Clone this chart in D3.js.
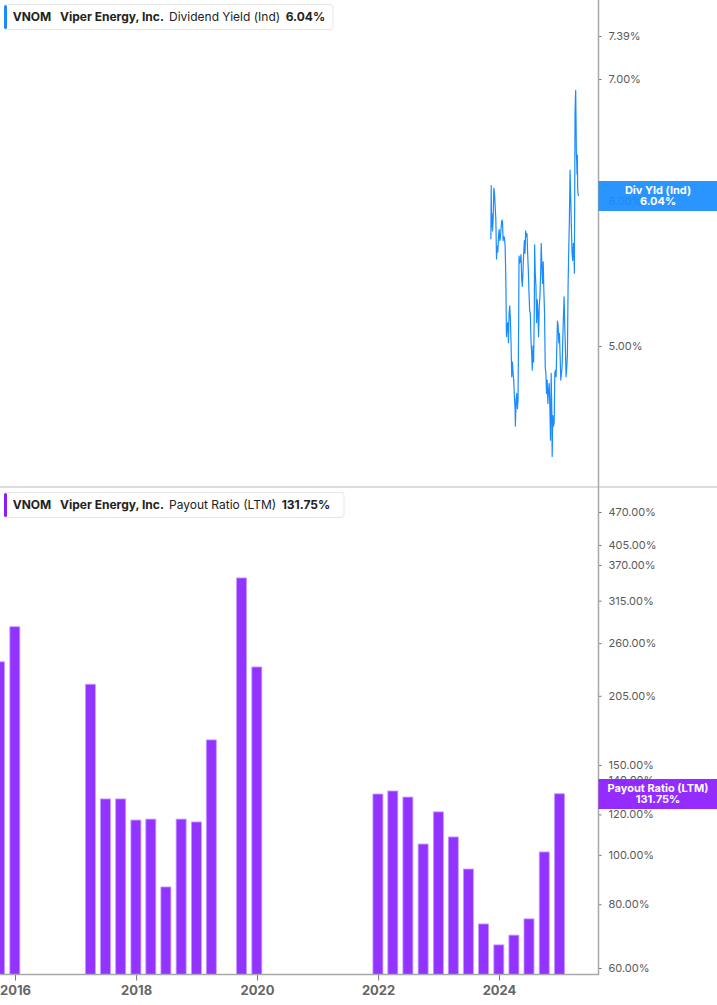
<!DOCTYPE html>
<html>
<head>
<meta charset="utf-8">
<script src="https://cdn.jsdelivr.net/npm/d3@7"></script>
<style>
	body { margin: 0; background: #fff; }
	svg { display: block; font-family: Inter, "Noto Sans", sans-serif; }
</style>
</head>
<body>
<svg id="main"></svg>
<script>
// dividend yield (ind), %
var yieldDates = ['2023-11-13','2023-11-15','2023-11-17','2023-11-19','2023-11-23','2023-11-27','2023-12-01','2023-12-05','2023-12-09','2023-12-13','2023-12-17','2023-12-21','2023-12-25','2023-12-29','2024-01-02','2024-01-06','2024-01-10','2024-01-14','2024-01-18','2024-01-22','2024-01-26','2024-01-30','2024-02-03','2024-02-07','2024-02-11','2024-02-15','2024-02-19','2024-02-23','2024-02-27','2024-03-02','2024-03-06','2024-03-10','2024-03-14','2024-03-18','2024-03-22','2024-03-26','2024-03-30','2024-04-03','2024-04-07','2024-04-09','2024-04-13','2024-04-17','2024-04-21','2024-04-25','2024-04-29','2024-05-01','2024-05-05','2024-05-09','2024-05-13','2024-05-17','2024-05-21','2024-05-25','2024-05-29','2024-06-02','2024-06-06','2024-06-10','2024-06-14','2024-06-18','2024-06-22','2024-06-26','2024-06-30','2024-07-04','2024-07-08','2024-07-12','2024-07-16','2024-07-20','2024-07-24','2024-07-28','2024-08-01','2024-08-03','2024-08-07','2024-08-11','2024-08-15','2024-08-19','2024-08-23','2024-08-27','2024-08-31','2024-09-04','2024-09-08','2024-09-12','2024-09-16','2024-09-20','2024-09-24','2024-09-28','2024-10-02','2024-10-06','2024-10-10','2024-10-14','2024-10-18','2024-10-22','2024-10-26','2024-10-30','2024-11-03','2024-11-07','2024-11-11','2024-11-15','2024-11-17','2024-11-21','2024-11-25','2024-11-29','2024-12-03','2024-12-07','2024-12-11','2024-12-15','2024-12-19','2024-12-23','2024-12-27','2024-12-31','2025-01-04','2025-01-08','2025-01-12','2025-01-16','2025-01-20','2025-01-24','2025-01-28','2025-02-01','2025-02-05','2025-02-09','2025-02-13','2025-02-17','2025-02-21','2025-02-25','2025-03-01','2025-03-05','2025-03-09','2025-03-13','2025-03-17','2025-03-21','2025-03-25','2025-03-29','2025-03-31','2025-04-02','2025-04-04','2025-04-06','2025-04-08','2025-04-10','2025-04-12','2025-04-14','2025-04-16','2025-04-18','2025-04-20','2025-04-24'];
var yieldValues = [5.72,6.12,5.81,5.91,5.78,5.88,6.10,6.06,5.96,5.86,5.58,5.67,5.63,5.74,5.79,5.71,5.74,5.81,5.86,5.85,5.71,5.74,5.73,5.67,5.46,5.06,5.13,5.15,5.02,5.21,5.26,5.17,5.00,4.81,4.90,4.83,4.79,4.69,4.62,4.52,4.67,4.71,4.62,4.67,5.21,5.60,5.55,5.57,5.61,5.44,5.39,5.50,5.62,5.71,5.62,5.78,5.74,5.76,5.62,5.50,5.35,5.23,5.21,5.04,4.96,4.85,5.00,4.90,5.21,5.68,5.48,5.39,5.15,5.30,5.21,5.06,5.26,5.32,5.46,5.69,5.53,5.41,5.56,5.35,5.21,4.87,4.83,4.71,4.79,4.65,4.73,4.77,4.63,4.44,4.83,4.60,4.35,4.58,4.52,4.54,4.83,4.85,4.81,5.00,5.16,5.13,5.02,5.08,4.94,4.79,4.83,4.87,5.04,5.19,5.32,5.13,4.98,4.81,4.87,4.94,5.39,5.64,5.86,6.24,6.03,5.81,5.62,5.57,5.69,5.62,5.48,6.03,6.70,6.82,6.90,6.65,6.38,6.32,6.21,6.36,6.09,6.04];

// payout ratio (LTM), %
var payoutDates = ['2015-09-30','2015-12-31','2017-03-31','2017-06-30','2017-09-30','2017-12-31','2018-03-31','2018-06-30','2018-09-30','2018-12-31','2019-03-31','2019-09-30','2019-12-31','2021-12-31','2022-03-31','2022-06-30','2022-09-30','2022-12-31','2023-03-31','2023-06-30','2023-09-30','2023-12-31','2024-03-31','2024-06-30','2024-09-30','2024-12-31'];
var payoutValues = [239,280,216,128.7,128.7,117,117.5,86.5,117.5,116,168,349,233.5,131.6,133.4,129.8,105,121.4,108.4,93.8,73.2,66.6,69.6,74.9,101.3,131.75];

var yieldTicks = [7.39, 7, 6, 5];
var payoutTicks = [470, 405, 370, 315, 260, 205, 150, 140, 120, 100, 80, 60];
var yearTicks = [2016, 2018, 2020, 2022, 2024];

var width = 717, height = 1005;
var axisX = 598.5;
var topBottom = 487, botTop = 488, botBottom = 974.5;
var blue = '#1a8cff', purple = '#9333ff';

var parse = d3.timeParse('%Y-%m-%d');
var svg = d3.select('#main').attr('width', width).attr('height', height);
var defs = svg.append('defs');
defs.append('clipPath').attr('id', 'clipTop').append('rect')
	.attr('x', 0).attr('y', 0).attr('width', axisX).attr('height', topBottom);
defs.append('clipPath').attr('id', 'clipBot').append('rect')
	.attr('x', 0).attr('y', botTop).attr('width', axisX).attr('height', botBottom - botTop);

var x = d3.scaleTime()
	.domain([new Date(2016, 0, 1), new Date(2024, 0, 1)])
	.range([15, 499]);
var yTop = d3.scaleLog().domain([5, 7.39]).range([346, 36]);
var yBot = d3.scaleLog().domain([60, 470]).range([968, 512]);

var pct = d3.format('.2f');

// top panel: yield line
var yieldData = yieldDates.map((d, i) => ({date: parse(d), value: yieldValues[i]}));
svg.append('path')
	.datum(yieldData)
	.attr('clip-path', 'url(#clipTop)')
	.attr('fill', 'none')
	.attr('stroke', blue)
	.attr('stroke-width', 1.2)
	.attr('stroke-linejoin', 'round')
	.attr('d', d3.line().x(d => x(d.date)).y(d => yTop(d.value)));

// bottom panel: payout bars
var payoutData = payoutDates.map((d, i) => ({date: parse(d), value: payoutValues[i]}));
var barW = 10;
svg.append('g')
	.attr('clip-path', 'url(#clipBot)')
	.selectAll('rect')
	.data(payoutData)
	.join('rect')
	.attr('x', d => x(d.date) - barW/2)
	.attr('y', d => yBot(d.value))
	.attr('width', barW)
	.attr('height', d => botBottom - yBot(d.value))
	.attr('fill', purple)
	.attr('stroke', '#c79cff')
	.attr('stroke-width', 0.8);

// panel divider
svg.append('rect')
	.attr('x', 0).attr('y', 486).attr('width', width).attr('height', 2)
	.attr('fill', '#dcdcdc');

// right value axes
function valueAxis(scale, ticks) {
	var g = svg.append('g').attr('transform', `translate(${axisX},0)`);
	g.call(d3.axisRight(scale).tickValues(ticks).tickSize(3).tickPadding(7).tickFormat(d => pct(d) + '%'));
	g.select('.domain').remove();
	g.selectAll('.tick line').attr('stroke', '#777');
	g.selectAll('.tick text')
		.attr('fill', '#5a5a5a')
		.style('font-family', 'Inter, sans-serif')
		.style('font-size', '11px');
	return g;
}
valueAxis(yTop, yieldTicks);
valueAxis(yBot, payoutTicks);

svg.append('line')
	.attr('x1', axisX).attr('x2', axisX).attr('y1', 0).attr('y2', botBottom + 0.5)
	.attr('stroke', '#a8a8a8').attr('stroke-width', 1.5);

// time axis
var xg = svg.append('g').attr('transform', `translate(0,${botBottom})`);
xg.call(d3.axisBottom(x).tickValues(yearTicks.map(y => new Date(y, 0, 1))).tickSize(6).tickPadding(5).tickFormat(d3.timeFormat('%Y')));
xg.select('.domain').remove();
xg.selectAll('.tick line').attr('stroke', '#777');
xg.selectAll('.tick text')
	.attr('fill', '#666')
	.style('font-family', 'Inter, sans-serif')
	.style('font-size', '13px')
	.style('font-weight', 700);
svg.append('line')
	.attr('x1', 0).attr('x2', axisX).attr('y1', botBottom).attr('y2', botBottom)
	.attr('stroke', '#a8a8a8').attr('stroke-width', 1.5);

// last-value flags on the axis
function flag(y0, color, title, value) {
	var g = svg.append('g');
	g.append('rect')
		.attr('x', axisX).attr('y', y0).attr('width', width - axisX).attr('height', 30)
		.attr('fill', color).attr('fill-opacity', 0.93);
	var t = g.append('text')
		.attr('x', 658).attr('text-anchor', 'middle')
		.attr('fill', '#fff')
		.style('font-size', '11px').style('font-weight', 700);
	t.append('tspan').attr('x', 658).attr('y', y0 + 13).text(title);
	t.append('tspan').attr('x', 658).attr('y', y0 + 24).text(value);
}
flag(181, blue, 'Div Yld (Ind)', pct(yieldValues[yieldValues.length - 1]) + '%');
flag(779, '#8c1cff', 'Payout Ratio (LTM)', pct(payoutValues[payoutValues.length - 1]) + '%');

// legends
function legend(y0, w, color, metric, value, valueX) {
	var g = svg.append('g');
	g.append('rect')
		.attr('x', 4.5).attr('y', y0 + 0.5).attr('width', w).attr('height', 25).attr('rx', 3)
		.attr('fill', '#fff').attr('stroke', '#e6e6e6');
	g.append('rect')
		.attr('x', 4).attr('y', y0 + 1).attr('width', 3).attr('height', 24).attr('rx', 1.5)
		.attr('fill', color);
	var base = y0 + 17;
	var items = [
		{x: 12.7, text: 'VNOM', bold: true},
		{x: 60, text: 'Viper Energy, Inc.', bold: true},
		{x: 169, text: metric, bold: false},
		{x: valueX, text: value, bold: true},
	];
	g.selectAll('text').data(items).join('text')
		.attr('x', d => d.x).attr('y', base)
		.attr('fill', '#222')
		.style('font-size', '12px')
		.style('font-weight', d => d.bold ? 700 : 400)
		.text(d => d.text);
}
legend(4, 328.5, blue, 'Dividend Yield (Ind)', pct(yieldValues[yieldValues.length - 1]) + '%', 285.7);
legend(492, 339.5, '#8c1cff', 'Payout Ratio (LTM)', pct(payoutValues[payoutValues.length - 1]) + '%', 281.7);
</script>
</body>
</html>
